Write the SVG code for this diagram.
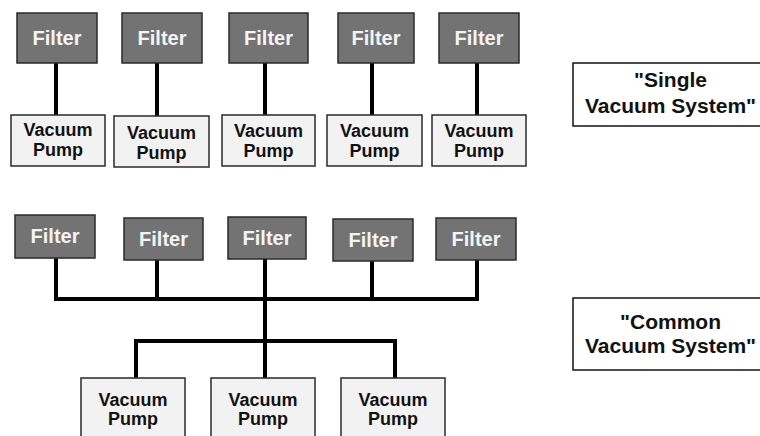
<svg xmlns="http://www.w3.org/2000/svg" width="760" height="436" viewBox="0 0 760 436">
<style>
.filter rect{fill:#737373;stroke:#2a2a2a;stroke-width:1.5}
.filter text{fill:#f4f4f4;font-family:"Liberation Sans",Arial,sans-serif;font-weight:bold;font-size:20px;text-anchor:middle}
.pump rect{fill:#f2f2f2;stroke:#2a2a2a;stroke-width:1.5}
.pump text{fill:#111;font-family:"Liberation Sans",Arial,sans-serif;font-weight:bold;font-size:18px;text-anchor:middle}
.label rect{fill:#fff;stroke:#111;stroke-width:1.5}
.label text{fill:#111;font-family:"Liberation Sans",Arial,sans-serif;font-weight:bold;font-size:21px;text-anchor:middle}
.conn{fill:none;stroke:#000;stroke-width:4;stroke-linecap:square}
</style>
<rect width="760" height="436" fill="#fff"/>
<g id="connectors">
<path class="conn" d="M56 63V115M157 63V116M265 63V115M372 63V115M477 63V115"/>
<path class="conn" d="M56 258V299H477V260M157 260V299M372 261V299M265 259V377M136 377V341H395V377"/>
</g>
<g id="f1" class="filter"><rect x="17" y="13" width="80" height="50"/><text x="57" y="45">Filter</text></g>
<g id="f2" class="filter"><rect x="122" y="13" width="80" height="50"/><text x="162" y="45">Filter</text></g>
<g id="f3" class="filter"><rect x="229" y="13" width="79" height="50"/><text x="268.5" y="45">Filter</text></g>
<g id="f4" class="filter"><rect x="338" y="13" width="76" height="50"/><text x="376" y="45">Filter</text></g>
<g id="f5" class="filter"><rect x="439" y="13" width="80" height="50"/><text x="479" y="45">Filter</text></g>
<g id="p1" class="pump"><rect x="11" y="115" width="94" height="51"/><text x="58" y="136">Vacuum</text><text x="58" y="156">Pump</text></g>
<g id="p2" class="pump"><rect x="114" y="116" width="95" height="51"/><text x="161.5" y="139">Vacuum</text><text x="161.5" y="159">Pump</text></g>
<g id="p3" class="pump"><rect x="222" y="115" width="93" height="51"/><text x="268.5" y="137">Vacuum</text><text x="268.5" y="157">Pump</text></g>
<g id="p4" class="pump"><rect x="327" y="115" width="95" height="51"/><text x="374.5" y="137">Vacuum</text><text x="374.5" y="157">Pump</text></g>
<g id="p5" class="pump"><rect x="432" y="115" width="94" height="51"/><text x="479" y="137">Vacuum</text><text x="479" y="157">Pump</text></g>
<g id="single" class="label"><rect x="573" y="63" width="195" height="63"/><text x="670.5" y="87">"Single</text><text x="670.5" y="113">Vacuum System"</text></g>
<g id="cf1" class="filter"><rect x="15" y="215" width="80" height="43"/><text x="55" y="243">Filter</text></g>
<g id="cf2" class="filter"><rect x="124" y="218" width="79" height="42"/><text x="163.5" y="246">Filter</text></g>
<g id="cf3" class="filter"><rect x="228" y="217" width="78" height="42"/><text x="267" y="245">Filter</text></g>
<g id="cf4" class="filter"><rect x="333" y="219" width="80" height="42"/><text x="373" y="247">Filter</text></g>
<g id="cf5" class="filter"><rect x="436" y="218" width="80" height="42"/><text x="476" y="246">Filter</text></g>
<g id="cp1" class="pump"><rect x="81" y="378" width="104" height="62"/><text x="133" y="406">Vacuum</text><text x="133" y="425">Pump</text></g>
<g id="cp2" class="pump"><rect x="211" y="378" width="104" height="62"/><text x="263" y="406">Vacuum</text><text x="263" y="425">Pump</text></g>
<g id="cp3" class="pump"><rect x="341" y="378" width="104" height="62"/><text x="393" y="406">Vacuum</text><text x="393" y="425">Pump</text></g>
<g id="common" class="label"><rect x="573" y="298" width="195" height="72"/><text x="670.5" y="329">"Common</text><text x="670.5" y="353">Vacuum System"</text></g>
</svg>
